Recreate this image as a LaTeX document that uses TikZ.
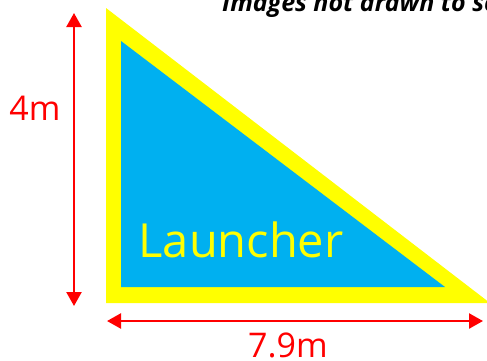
\documentclass[tikz,border=0pt]{standalone}
\usepackage{fontspec}
\setmainfont{Open Sans}
\usetikzlibrary{arrows.meta}
\definecolor{tyellow}{HTML}{FFFF00}
\definecolor{tblue}{HTML}{00B0F0}
\definecolor{tred}{HTML}{FF0000}
\tikzset{
  dim/.style={draw=tred, line width=2.4pt, {Triangle[width=15pt,length=14pt]}-{Triangle[width=15pt,length=14pt]}},
  dimlabel/.style={text=tred, font=\fontsize{34}{34}\selectfont, inner sep=0pt},
}
\begin{document}
\begin{tikzpicture}[x=1pt,y=-1pt]
\useasboundingbox (0,0) rectangle (487,360);
\clip (0,0) rectangle (487,360);
% outer yellow triangle
\fill[tyellow] (106,8) -- (106,303) -- (490,303) -- cycle;
% inner blue triangle
\fill[tblue] (121,41) -- (121,287) -- (445,287) -- cycle;
\node[text=tyellow, font=\fontsize{47}{47}\selectfont, inner sep=0pt, anchor=base] (launch) at (241,257) {Launcher};
% header
\node[font=\bfseries\itshape\fontsize{25}{25}\selectfont, anchor=base west, inner sep=0pt] (hdr) at (222,11) {Images not drawn to scale};
% dimension arrows
\coordinate (vtop) at (74,13);
\coordinate (vbot) at (74,306);
\coordinate (hl) at (107,321);
\coordinate (hr) at (483,321);
\draw[dim] (vtop) -- (vbot);
\draw[dim] (hl) -- (hr);
\node[dimlabel, anchor=base] (h) at (35,120) {4m};
\node[dimlabel, anchor=base] (w) at (288,357) {7.9m};
\end{tikzpicture}
\end{document}
